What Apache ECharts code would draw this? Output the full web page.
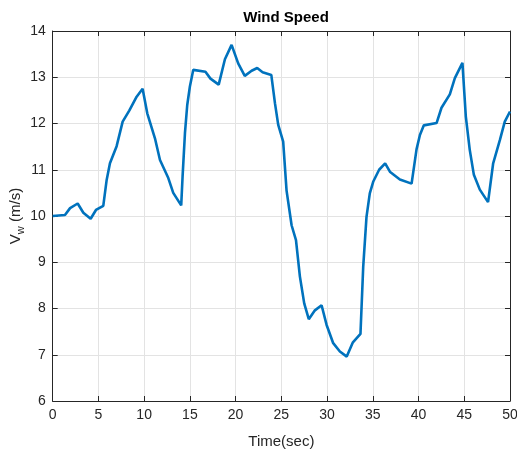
<!DOCTYPE html>
<html>
<head>
<meta charset="utf-8">
<script src="https://cdn.jsdelivr.net/npm/echarts@6/dist/echarts.min.js"></script>
<style>
  html, body { margin: 0; padding: 0; background: #fff; }
  #chart { width: 517px; height: 455px; }
</style>
</head>
<body>
<div id="chart"></div>
<script>
// Wind speed samples: time (s) and speed (m/s)
const timeSec = [0, 1.34, 1.9, 2.73, 3.35, 4.15, 4.73, 5.53, 5.9, 6.26, 6.99, 7.65, 8.37, 9.18,
  9.83, 10.34, 11.18, 11.73, 12.64, 13.18, 14.05, 14.2, 14.46, 14.71, 15.0, 15.37, 16.7,
  17.25, 18.15, 18.83, 19.56, 20.28, 21.0, 21.75, 22.36, 22.95, 23.9, 24.3, 24.66, 25.2,
  25.57, 26.12, 26.6, 27.03, 27.5, 28.0, 28.67, 29.4, 29.94, 30.67, 31.4, 32.15, 32.8,
  33.65, 33.95, 34.31, 34.67, 35.04, 35.69, 36.35, 36.9, 37.96, 39.24, 39.78, 40.15,
  40.58, 41.97, 42.51, 43.42, 43.97, 44.8, 45.17, 45.6, 46.05, 46.7, 47.6, 48.16, 48.89,
  49.43, 50];
const windSpeed = [10.0, 10.02, 10.17, 10.27, 10.07, 9.94, 10.13, 10.22, 10.78, 11.14, 11.51,
  12.04, 12.28, 12.58, 12.75, 12.22, 11.68, 11.21, 10.82, 10.5, 10.23, 10.85, 11.79, 12.4,
  12.8, 13.16, 13.12, 12.97, 12.84, 13.39, 13.70, 13.30, 13.03, 13.14, 13.2, 13.11, 13.05,
  12.44, 11.97, 11.61, 10.55, 9.8, 9.48, 8.69, 8.11, 7.77, 7.96, 8.07, 7.65, 7.25, 7.07,
  6.96, 7.26, 7.45, 8.9, 9.98, 10.49, 10.74, 11.0, 11.14, 10.95, 10.79, 10.7, 11.44, 11.75,
  11.96, 12.01, 12.34, 12.63, 12.98, 13.31, 12.15, 11.43, 10.89, 10.57, 10.3, 11.14, 11.64,
  12.04, 12.26];

const xTicks = { min: 0, max: 50, step: 5 };
const yTicks = { min: 6, max: 14, step: 1 };

const FONT = '"Liberation Sans Narrow", "Liberation Sans", Arial, sans-serif';
const AXIS_COLOR = '#262626';

const chart = echarts.init(document.getElementById('chart'), null, { renderer: 'canvas' });

function valueAxis(range, pos, showLabels, showGrid) {
  return {
    type: 'value',
    position: pos,
    min: range.min,
    max: range.max,
    interval: range.step,
    axisLine: { show: true, onZero: false, lineStyle: { color: AXIS_COLOR, width: 1 } },
    axisTick: { show: true, inside: true, length: 5, lineStyle: { color: AXIS_COLOR } },
    axisLabel: {
      show: showLabels,
      color: '#262626',
      fontFamily: FONT,
      fontSize: 14,
      margin: 7
    },
    splitLine: { show: showGrid, lineStyle: { color: '#e3e3e3', width: 1 } }
  };
}

const xBottom = valueAxis(xTicks, 'bottom', true, true);
xBottom.name = 'Time(sec)';
xBottom.nameLocation = 'middle';
xBottom.nameGap = 33;
xBottom.nameMoveOverlap = false;
xBottom.nameTextStyle = { color: '#262626', fontFamily: FONT, fontSize: 15 };

const yLeft = valueAxis(yTicks, 'left', true, true);
yLeft.name = '{v|V}{s|w}{v| (m/s)}';
yLeft.nameLocation = 'middle';
yLeft.nameGap = 26;
yLeft.nameRotate = 90;
yLeft.nameMoveOverlap = false;
yLeft.nameTextStyle = {
  color: '#262626',
  fontFamily: FONT,
  rich: {
    v: { fontFamily: FONT, fontSize: 15, color: '#262626' },
    s: { fontFamily: FONT, fontSize: 11, color: '#262626', padding: [10, 0, 0, 0] }
  }
};

chart.setOption({
  animation: false,
  backgroundColor: '#ffffff',
  title: {
    text: 'Wind Speed',
    left: 281,
    textAlign: 'center',
    top: 5,
    textStyle: { fontFamily: FONT, fontSize: 15, fontWeight: 'bold', color: '#000' }
  },
  grid: { left: 52.7, right: 7, top: 31, bottom: 54, containLabel: false, outerBoundsMode: 'none' },
  xAxis: [xBottom, valueAxis(xTicks, 'top', false, false)],
  yAxis: [yLeft, valueAxis(yTicks, 'right', false, false)],
  series: [{
    type: 'line',
    xAxisIndex: 0,
    yAxisIndex: 0,
    data: timeSec.map((t, i) => [t, windSpeed[i]]),
    showSymbol: false,
    smooth: false,
    lineStyle: { color: '#0072BD', width: 2.6 },
    itemStyle: { color: '#0072BD' }
  }]
});
</script>
</body>
</html>
